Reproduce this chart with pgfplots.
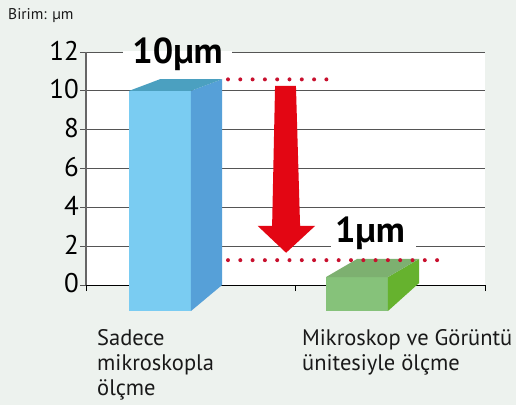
\documentclass[border=0pt]{standalone}
\usepackage{pgfplots}
\pgfplotsset{compat=1.18}
\usepackage{fontspec}
\setmainfont{PT Sans}
\definecolor{bg}{RGB}{237,242,238}
\definecolor{gridc}{RGB}{85,85,85}
\definecolor{bluefront}{RGB}{122,204,242}
\definecolor{blueside}{RGB}{86,160,216}
\definecolor{bluetop}{RGB}{75,160,192}
\definecolor{greenfront}{RGB}{134,194,122}
\definecolor{greenside}{RGB}{102,178,46}
\definecolor{greentop}{RGB}{125,176,112}
\definecolor{arrowred}{RGB}{227,6,19}
\definecolor{dotred}{RGB}{200,16,46}
\definecolor{txt}{RGB}{25,25,25}
\begin{document}
\begin{tikzpicture}[x=1pt,y=1pt]
\fill[bg] (0,0) rectangle (516,405);
\path[use as bounding box] (0,0) rectangle (516,405);
\node[anchor=base west, inner sep=0pt, font=\fontsize{15.5}{18}\selectfont, text=txt] at (8,385) {Birim: µm};
\begin{axis}[
  at={(86pt,120pt)}, anchor=south west,
  scale only axis, width=399pt, height=233pt,
  xmin=-0.376, xmax=1.65, ymin=0, ymax=12,
  clip=false,
  axis background/.style={fill=white},
  axis x line*=bottom, axis y line*=left,
  x axis line style={black, line width=0.9pt},
  y axis line style={gray!80!black, line width=1.3pt},
  ytick={0,2,...,12},
  ymajorgrids, grid style={gridc, line width=0.9pt},
  ytick style={gridc, line width=0.9pt},
  major tick length=6pt, tick align=outside,
  /pgf/number format/assume math mode=true,
  yticklabel style={font=\fontsize{27}{30}\selectfont, text=black, inner sep=0pt, xshift=-1pt, yshift=1.5pt},
  xtick={-0.376,0.685,1.65},
  xtick style={black, line width=0.9pt},
  x tick label style={anchor=base west, inner sep=0pt, font=\fontsize{22.5}{25}\selectfont, text=txt, yshift=-54pt, xshift=7pt},
  xticklabels={{\begin{tabular}[t]{@{\hspace{4pt}}l@{}}Sadece\\mikroskopla\\ölçme\end{tabular}},{\begin{tabular}[t]{@{}l@{}}Mikroskop ve Görüntü\\ünitesiyle ölçme\end{tabular}},{}},
]
% blue bar (10 um)
\addplot[fill=bluefront, draw=none] coordinates {(-0.157,-1.34) (0.157,-1.34) (0.157,10) (-0.157,10)};
\addplot[fill=blueside, draw=none] coordinates {(0.157,-1.34) (0.315,0) (0.315,10.6) (0.157,10)};
\addplot[fill=bluetop, draw=none] coordinates {(-0.157,10) (0.157,10) (0.315,10.6) (0,10.6)};
% green bar (1 um)
\addplot[fill=greenfront, draw=none] coordinates {(0.843,-1.34) (1.157,-1.34) (1.157,0.41) (0.843,0.41)};
\addplot[fill=greenside, draw=none] coordinates {(1.157,-1.34) (1.315,0.1) (1.315,1.34) (1.157,0.41)};
\addplot[fill=greentop, draw=none] coordinates {(0.843,0.41) (1.157,0.41) (1.315,1.34) (1.0,1.34)};
% gaps in grid lines behind labels
\fill[white] (axis cs:-0.188,11.94) rectangle (axis cs:0.365,12.06);
\fill[white] (axis cs:0.868,1.94) rectangle (axis cs:1.30,2.06);
% dotted level lines
\addplot[dotred, line width=4pt, line cap=round, dash pattern=on 0pt off 12.3pt] coordinates {(0.345,10.59) (0.851,10.59)};
\addplot[dotred, line width=4pt, line cap=round, dash pattern=on 0pt off 12.3pt] coordinates {(0.345,1.28) (1.46,1.28)};
% red arrow
\addplot[fill=arrowred, draw=none] coordinates {(0.584,10.25) (0.690,10.25) (0.711,3.04) (0.787,3.04) (0.640,1.66) (0.496,3.04) (0.569,3.04)};
% labels
\node[anchor=base, inner sep=0pt, font=\bfseries\fontsize{36}{40}\selectfont] at (axis cs:0.089,11.43) {10µm};
\node[anchor=base, inner sep=0pt, font=\bfseries\fontsize{36}{40}\selectfont] at (axis cs:1.066,2.18) {1µm};
\end{axis}
\end{tikzpicture}
\end{document}
